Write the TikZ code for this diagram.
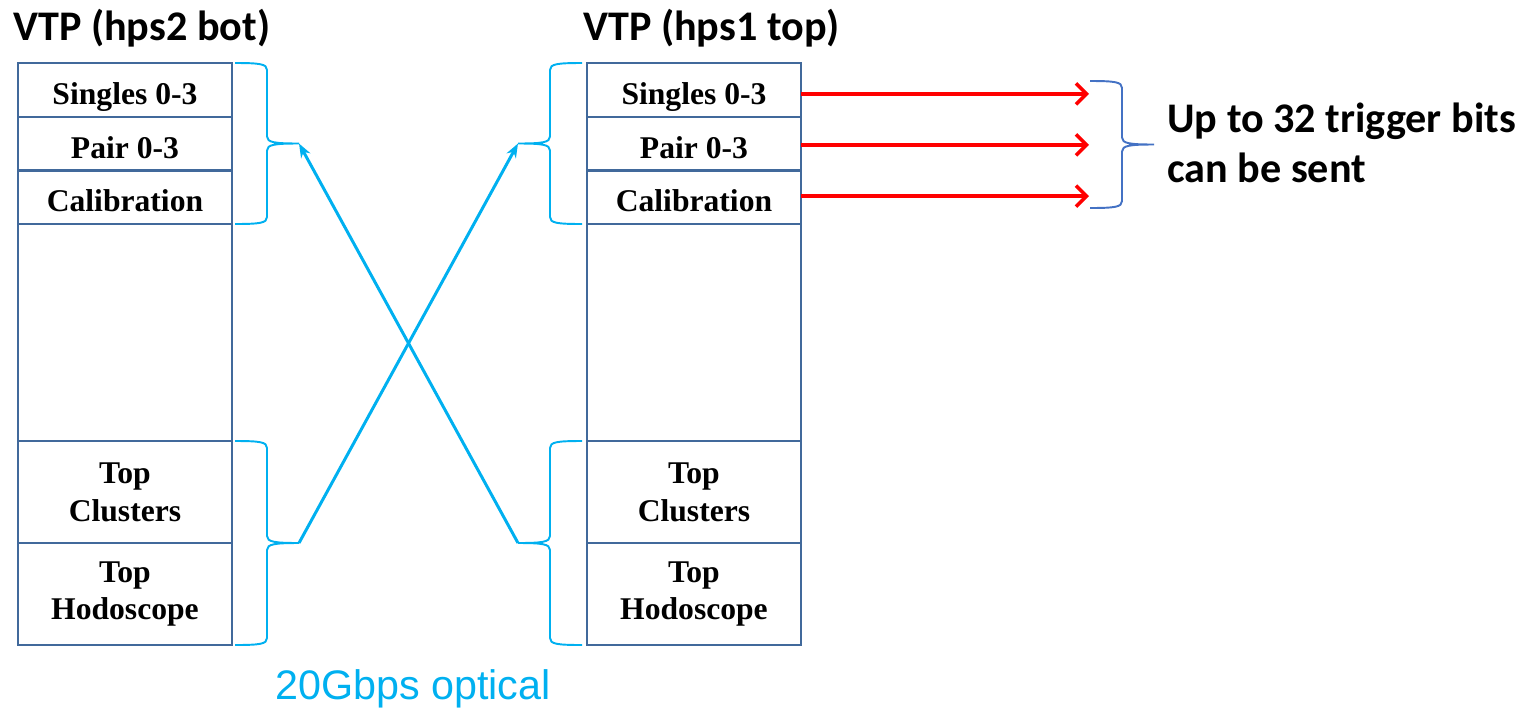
\documentclass[tikz,border=0pt]{standalone}
\usepackage{fontspec}
\setmainfont{Liberation Serif}
\newfontfamily\calfont{Carlito}
\newfontfamily\arialfont{Liberation Sans}
\usetikzlibrary{positioning,arrows.meta}

\definecolor{boxblue}{RGB}{65,105,155}
\definecolor{fibre}{RGB}{0,176,240}
\definecolor{bitblue}{RGB}{68,114,196}

% curly bracket: [style]{edge x}{top y}{bottom y}{direction}{tip name}
\newcommand{\curly}[6][brace]{%
  \draw[#1] (#2,#3) .. controls ({#2+#5*25},#3) and ({#2+#5*32},{#3+1}) .. ({#2+#5*32},{#3+7})
    -- ({#2+#5*32},{(#3+#4)/2-7})
    .. controls ({#2+#5*32},{(#3+#4)/2-1}) and ({#2+#5*40},{(#3+#4)/2}) .. ({#2+#5*64},{(#3+#4)/2}) coordinate (#6)
    .. controls ({#2+#5*40},{(#3+#4)/2}) and ({#2+#5*32},{(#3+#4)/2+1}) .. ({#2+#5*32},{(#3+#4)/2+7})
    -- ({#2+#5*32},{#4-7})
    .. controls ({#2+#5*32},{#4-1}) and ({#2+#5*25},#4) .. (#2,#4);
}

\begin{document}
\begin{tikzpicture}[x=0.02cm, y=-0.02cm,
    cell/.style={draw=boxblue, line width=1.3pt, minimum width=4.28cm, minimum height=1.074cm,
      inner sep=0pt, outer sep=0pt, align=center, font=\fontsize{18}{21.5}\selectfont\bfseries},
    onerow/.style={cell, text height=16.5pt, text depth=0pt},
    brace/.style={draw=fibre, line width=1.1pt},
    bitbrace/.style={draw=bitblue, line width=1.1pt},
    fibrearrow/.style={draw=fibre, line width=1.7pt, -{Stealth[length=8pt,width=6pt]}},
    trig/.style={draw=red, line width=2pt, -{Straight Barb[length=6pt,width=12pt]}},
    title/.style={anchor=base west, inner sep=0pt, font=\calfont\bfseries\fontsize{24}{28.5}\selectfont}]

    \useasboundingbox (0,0) rectangle (1524,707);

    % Titles
    \node[title] (ltitle) at (13,40) {VTP (hps2 bot)};
    \node[title] (rtitle) at (583,40) {VTP (hps1 top)};

    % The two VTP boards
    \foreach \s/\x in {l/18, r/587} {
        \node[onerow, anchor=north west] (\s s) at (\x,63) {Singles 0-3};
        \node[onerow, below=0pt of \s s] (\s p) {Pair 0-3};
        \node[onerow, below=0pt of \s p] (\s c) {Calibration};
        \node[cell, below=0pt of \s c, minimum height=4.34cm] (\s e) {};
        \node[cell, below=0pt of \s e, minimum height=2.04cm] (\s t) {Top\\Clusters};
        \node[cell, below=0pt of \s t, minimum height=2.04cm] (\s h) {Top\\Hodoscope};
    }

    % Brackets
    \curly{235}{63}{224}{1}{ltop}
    \curly{235}{441}{645}{1}{lbot}
    \curly{582}{63}{224}{-1}{rtop}
    \curly{582}{441}{645}{-1}{rbot}
    \curly[bitbrace]{1090}{81}{208}{1}{bits}

    % Optical links between the boards
    \draw[fibrearrow] (lbot) -- (rtop);
    \draw[fibrearrow] (rbot) -- (ltop);

    % Trigger bits out
    \coordinate (bitsedge) at (1089,0);
    \foreach \r/\dy in {s/-2.3pt, p/-0.8pt, c/0.6pt}
        \draw[trig] ([yshift=\dy]r\r.east) -- ([yshift=\dy]r\r.east -| bitsedge);

    % Labels
    \node[anchor=west, inner sep=0pt, align=left, font=\calfont\bfseries\fontsize{24}{28.5}\selectfont] (bitslabel) at (1167,143) {Up to 32 trigger bits\\can be sent};
    \node[anchor=base, inner sep=0pt, text=fibre, font=\arialfont\fontsize{23.5}{28}\selectfont] (optlabel) at (413,699) {20Gbps optical};

\end{tikzpicture}
\end{document}
